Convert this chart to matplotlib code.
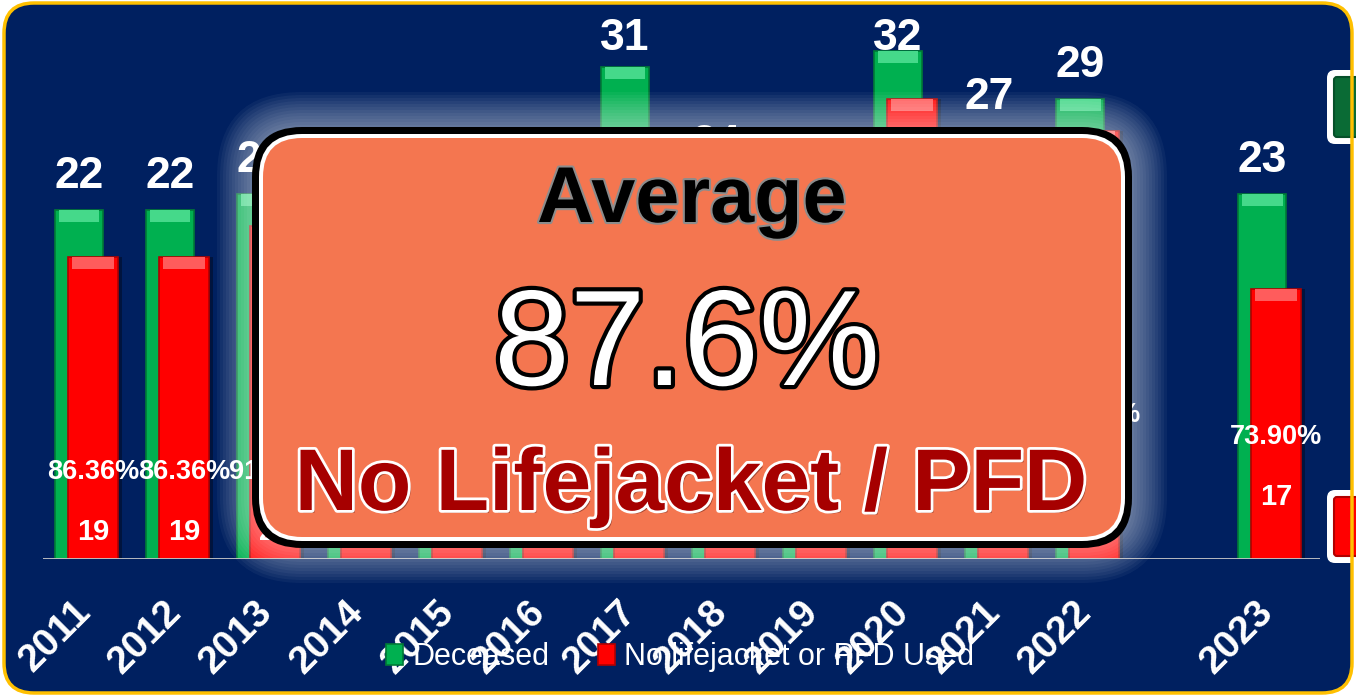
import numpy as np
import matplotlib
matplotlib.use("Agg")
import matplotlib.pyplot as plt
from matplotlib.patches import FancyBboxPatch
import matplotlib.patheffects as pe

plt.rcParams['font.family'] = ['Liberation Sans', 'DejaVu Sans']

# data (values hidden by the box are estimates)
years = [2011, 2012, 2013, 2014, 2015, 2016, 2017, 2018, 2019, 2020, 2021, 2022, 2023]
deceased = [22, 22, 23, 21, 19, 23, 31, 24, 20, 32, 27, 29, 23]
no_pfd = [19, 19, 21, 18, 16, 20, 26, 22, 18, 29, 24, 27, 17]
pct_text = ["86.36%", "86.36%", "91.30%", "85.71%", "84.21%", "86.96%", "83.87%",
            "91.67%", "90.00%", "90.63%", "88.89%", "93.10%", "73.90%"]
slots = list(range(12)) + [13]     # gap before 2023
average_text = "87.6%"

W, H = 1356, 696
navy = "#002060"
green, green_dk, green_lt = "#00B050", "#007A36", "#45D98A"
red, red_dk, red_lt = "#FF0000", "#B00000", "#FF5C5C"

fig = plt.figure(figsize=(W / 100, H / 100), dpi=100, facecolor="white")

# background frame
bg = fig.add_axes([0, 0, 1, 1], zorder=0)
bg.set_xlim(0, W); bg.set_ylim(H, 0); bg.axis("off")
bg.add_patch(FancyBboxPatch((4, 3), W - 8, H - 6, boxstyle="round,pad=0,rounding_size=30",
                            fc=navy, ec="none"))

# bar chart
px_unit = 15.87
ax = fig.add_axes([43 / W, 1 - 559 / H, (1320 - 43) / W, 559 / H], zorder=1)
ax.patch.set_alpha(0)
ax.set_xlim(-0.4725, 13.56)
ax.set_ylim(0, 559 / px_unit)
for s in ax.spines.values():
    s.set_visible(False)
ax.set_yticks([])

x = np.array(slots, dtype=float)
d = np.array(deceased, dtype=float)
r = np.array(no_pfd, dtype=float)

g_bars = ax.bar(x - 0.077, d, width=0.53, color=green, edgecolor=green_dk, lw=1.2, zorder=2)
ax.bar(x - 0.077, np.full_like(d, 0.75), bottom=d - 0.75, width=0.45, color=green_lt, lw=0, zorder=2.1)
ax.bar(x + 0.12, r, width=0.55, color="black", alpha=0.35, lw=0, zorder=2.5)
r_bars = ax.bar(x + 0.077, r, width=0.55, color=red, edgecolor=red_dk, lw=1.2, zorder=3)
ax.bar(x + 0.077, np.full_like(r, 0.75), bottom=r - 0.75, width=0.47, color=red_lt, lw=0, zorder=3.1)

ax.axhline(0, color="#C8C8C8", lw=2, zorder=4)

ax.set_xticks(x - 0.15)
ax.set_xticklabels([str(y) for y in years], rotation=45, ha="right", va="top",
                   rotation_mode="anchor", fontsize=28, fontweight="bold", color="white")
ax.tick_params(axis="x", length=0, pad=25)

count_y = {2023: 3.9}
pct_y = {2022: 9.1, 2023: 7.7}
for xi, yr, dv, rv, pt in zip(x, years, deceased, no_pfd, pct_text):
    ax.text(xi - 0.077, min(dv + 1.38, 32.1), str(dv), ha="center", va="baseline",
            fontsize=32, fontweight="bold", color="white", zorder=5)
    ax.text(xi + 0.077, count_y.get(yr, 1.7), str(rv), ha="center", va="center",
            fontsize=21, fontweight="bold", color="white", zorder=5)
    ax.text(xi + 0.077, pct_y.get(yr, 5.48), pt, ha="center", va="center",
            fontsize=19.5, fontweight="bold", color="white", zorder=5)

ax.legend([g_bars, r_bars], ["Deceased", "No lifejacket or PFD Used"], ncol=2, loc="center",
          bbox_to_anchor=(680 / W, 1 - 657 / H), bbox_transform=fig.transFigure,
          frameon=False, fontsize=22, labelcolor="white", handlelength=0.55,
          handleheight=0.7, handletextpad=0.3, columnspacing=1.6)

# overlay: glow, callout box and texts
ov = fig.add_axes([0, 0, 1, 1], zorder=3)
ov.set_xlim(0, W); ov.set_ylim(H, 0); ov.axis("off"); ov.patch.set_alpha(0)

bx, by, bw, bh = 252, 127, 880, 421
for p in range(2, 38, 3):
    ov.add_patch(FancyBboxPatch((bx - p, by - p), bw + 2 * p, bh + 2 * p,
                                boxstyle=f"round,pad=0,rounding_size={50 + p}",
                                fc="white", ec="none", alpha=0.045))
ov.add_patch(FancyBboxPatch((bx, by), bw, bh, boxstyle="round,pad=0,rounding_size=50",
                            fc="black", ec="none"))
ov.add_patch(FancyBboxPatch((bx + 7, by + 7), bw - 14, bh - 14,
                            boxstyle="round,pad=0,rounding_size=43", fc="white", ec="none"))
ov.add_patch(FancyBboxPatch((bx + 11, by + 11), bw - 22, bh - 22,
                            boxstyle="round,pad=0,rounding_size=39", fc="#F47650", ec="none"))

ov.text(692, 222, "Average", ha="center", va="baseline", fontsize=57, fontweight="bold",
        color="black", path_effects=[pe.withStroke(linewidth=3, foreground="#8C8C8C")])
ov.text(687, 385, average_text, ha="center", va="baseline", fontsize=98, color="white",
        path_effects=[pe.withStroke(linewidth=6, foreground="black")])
ov.text(691, 510, "No Lifejacket / PFD", ha="center", va="baseline", fontsize=63,
        fontweight="bold", color="#A60000",
        path_effects=[pe.SimplePatchShadow(offset=(2, -2), alpha=0.4),
                      pe.withStroke(linewidth=4, foreground="white")])

# legend swatches cut off at the right edge
ov.add_patch(FancyBboxPatch((1327, 70), 70, 74, boxstyle="round,pad=0,rounding_size=8",
                            fc="white", ec="none"))
ov.add_patch(FancyBboxPatch((1334, 77), 70, 60, boxstyle="round,pad=0,rounding_size=3",
                            fc="#0A6B35", ec="#06502A", lw=1.5))
ov.add_patch(FancyBboxPatch((1327, 490), 70, 73, boxstyle="round,pad=0,rounding_size=8",
                            fc="white", ec="none"))
ov.add_patch(FancyBboxPatch((1334, 497), 70, 59, boxstyle="round,pad=0,rounding_size=3",
                            fc=red, ec=red_dk, lw=1.5))

# gold frame edge on top
ov.add_patch(FancyBboxPatch((4, 3), W - 8, H - 6, boxstyle="round,pad=0,rounding_size=30",
                            fc="none", ec="#FFC000", lw=2.5))

fig.savefig("out.png", dpi=100, facecolor="white")
